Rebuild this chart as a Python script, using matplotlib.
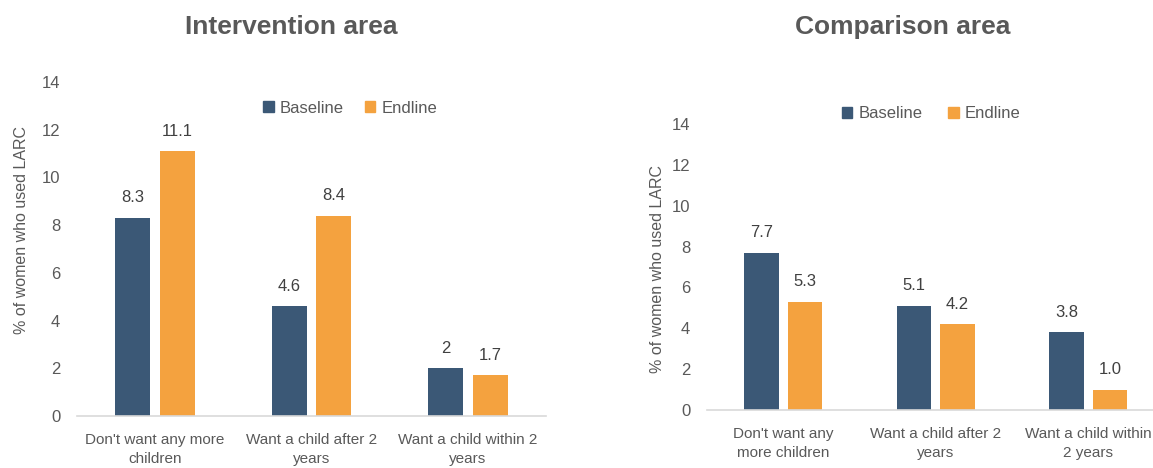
import numpy as np
import matplotlib
matplotlib.use("Agg")
import matplotlib.pyplot as plt
from matplotlib.patches import Patch

plt.rcParams['font.family'] = ['Liberation Sans', 'DejaVu Sans']

# Data
series = ["Baseline", "Endline"]
left_categories = ["Don't want any more\nchildren", "Want a child after 2\nyears", "Want a child within 2\nyears"]
right_categories = ["Don't want any\nmore children", "Want a child after 2\nyears", "Want a child within\n2 years"]
intervention_baseline = [8.3, 4.6, 2.0]
intervention_endline = [11.1, 8.4, 1.7]
intervention_labels_baseline = ["8.3", "4.6", "2"]
intervention_labels_endline = ["11.1", "8.4", "1.7"]
comparison_baseline = [7.7, 5.1, 3.8]
comparison_endline = [5.3, 4.2, 1.0]
comparison_labels_baseline = ["7.7", "5.1", "3.8"]
comparison_labels_endline = ["5.3", "4.2", "1.0"]
y_ticks = [0, 2, 4, 6, 8, 10, 12, 14]

BLUE = "#3B5876"
ORANGE = "#F4A23F"
GRAY = "#595959"
AXIS = "#D9D9D9"
FS = 12

W, H = 1153, 468
fig = plt.figure(figsize=(W / 100, H / 100), dpi=100)


def panel(rect, cats, base, end, lb, le, ylabel_xy):
    ax = fig.add_axes(rect)
    x = np.arange(len(cats))
    bw = 0.224
    off = 0.143
    ax.bar(x - off, base, bw, color=BLUE, zorder=2)
    ax.bar(x + off, end, bw, color=ORANGE, zorder=2)
    for xi, v, t in zip(x - off, base, lb):
        ax.annotate(t, (xi, v), xytext=(0, 9), textcoords="offset points",
                    ha="center", va="bottom", fontsize=FS, color="#404040")
    for xi, v, t in zip(x + off, end, le):
        ax.annotate(t, (xi, v), xytext=(0, 9), textcoords="offset points",
                    ha="center", va="bottom", fontsize=FS, color="#404040")
    ax.set_xlim(-0.5, len(cats) - 0.5)
    ax.set_ylim(0, 14)
    ax.set_yticks(y_ticks)
    ax.set_xticks(x)
    ax.set_xticklabels(cats, fontsize=11, color=GRAY, linespacing=1.45)
    ax.tick_params(axis="y", labelsize=FS, labelcolor=GRAY, length=0, pad=12)
    ax.tick_params(axis="x", length=0, pad=12)
    for s in ["top", "right", "left"]:
        ax.spines[s].set_visible(False)
    ax.spines["bottom"].set_color(AXIS)
    ax.spines["bottom"].set_linewidth(1.2)
    ax.set_ylabel("% of women who used LARC", fontsize=11.5, color=GRAY, va="center")
    lx, ly = ylabel_xy
    ax.yaxis.set_label_coords((lx - rect[0] * W) / (rect[2] * W),
                              ((1 - ly / H) - rect[1]) / rect[3])
    return ax


ax1 = panel([77 / W, 1 - 416 / H, 469 / W, (416 - 82) / H],
            left_categories, intervention_baseline, intervention_endline,
            intervention_labels_baseline, intervention_labels_endline, (22, 230))
ax2 = panel([707 / W, 1 - 410 / H, 457.5 / W, (410 - 124) / H],
            right_categories, comparison_baseline, comparison_endline,
            comparison_labels_baseline, comparison_labels_endline, (657, 269))

fig.text(291 / W, 1 - 27 / H, "Intervention area", ha="center", va="center",
         fontsize=19, fontweight="bold", color=GRAY)
fig.text(903 / W, 1 - 27 / H, "Comparison area", ha="center", va="center",
         fontsize=19, fontweight="bold", color=GRAY)

handles = [Patch(color=BLUE, label=series[0]), Patch(color=ORANGE, label=series[1])]
for cx, cy, gap in [(350, 108, 1.25), (931, 114, 1.55)]:
    fig.legend(handles=handles, loc="center", bbox_to_anchor=(cx / W, 1 - cy / H),
               ncol=2, frameon=False, fontsize=FS, handlelength=0.65, handleheight=0.65,
               handletextpad=0.35, columnspacing=gap, labelcolor=GRAY,
               borderpad=0, borderaxespad=0)

fig.savefig("out.png", dpi=100)
